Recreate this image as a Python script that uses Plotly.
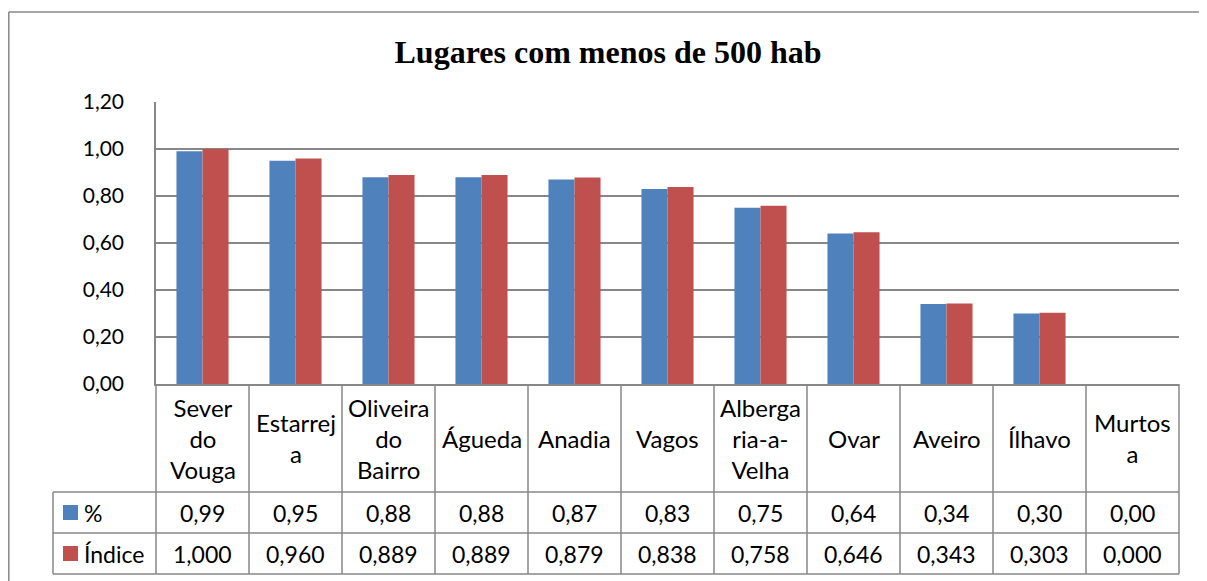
import plotly.graph_objects as go

# ---------------- data ----------------
categories = ["Sever do Vouga", "Estarreja", "Oliveira do Bairro", "Águeda", "Anadia",
              "Vagos", "Albergaria-a-Velha", "Ovar", "Aveiro", "Ílhavo", "Murtosa"]
category_labels = ["Sever<br>do<br>Vouga", "Estarrej<br>a", "Oliveira<br>do<br>Bairro", "Águeda",
                   "Anadia", "Vagos", "Alberga<br>ria-a-<br>Velha", "Ovar", "Aveiro", "Ílhavo",
                   "Murtos<br>a"]
pct = [0.99, 0.95, 0.88, 0.88, 0.87, 0.83, 0.75, 0.64, 0.34, 0.30, 0.00]
indice = [1.000, 0.960, 0.889, 0.889, 0.879, 0.838, 0.758, 0.646, 0.343, 0.303, 0.000]
series_names = ["%", "Índice"]
y_tickvals = [0.0, 0.2, 0.4, 0.6, 0.8, 1.0, 1.2]
y_ticktext = ["0,00", "0,20", "0,40", "0,60", "0,80", "1,00", "1,20"]
title_text = "Lugares com menos de 500 hab"

# ---------------- style ----------------
BLUE = "#4F81BD"
RED = "#C0504D"
GRID = "#878787"
FONT = "Lato"
WIN_W, WIN_H = 1207, 581
OFF = 8                                # default page body margin
W, H = WIN_W - OFF, WIN_H - OFF        # figure size so it fits the window
L, R, T, B = 156, 1179, 102, 384       # plot area in page pixels
PW, PH = R - L, B - T


def px_x(px):
    return (px - L) / PW


def px_y(py):
    return (B - py) / PH


def fmt(v, n):
    return f"{v:.{n}f}".replace(".", ",")


fig = go.Figure()
fig.add_trace(go.Bar(x=categories, y=pct, name=series_names[0], marker=dict(color=BLUE, line=dict(width=0))))
fig.add_trace(go.Bar(x=categories, y=indice, name=series_names[1], marker=dict(color=RED, line=dict(width=0))))

# table geometry (page pixels)
header_bottom = 492
row1_bottom = 533
row2_bottom = 574
legend_left = 53
n = len(categories)

shapes = []
line = dict(color=GRID, width=1.5)
# outer chart border (top and left)
shapes.append(dict(type="line", xref="paper", yref="paper", x0=px_x(8.8), x1=px_x(WIN_W + 5),
                   y0=px_y(12), y1=px_y(12), line=line))
shapes.append(dict(type="line", xref="paper", yref="paper", x0=px_x(8.8), x1=px_x(8.8),
                   y0=px_y(12), y1=px_y(WIN_H + 5), line=line))
# table horizontal lines
for py in (header_bottom, row1_bottom, row2_bottom):
    shapes.append(dict(type="line", xref="paper", yref="paper", x0=px_x(legend_left), x1=1,
                       y0=px_y(py), y1=px_y(py), line=line))
# table vertical lines (category boundaries)
for i in range(n + 1):
    shapes.append(dict(type="line", xref="paper", yref="paper", x0=i / n, x1=i / n,
                       y0=0, y1=px_y(row2_bottom), line=line))
# legend column left edge
shapes.append(dict(type="line", xref="paper", yref="paper", x0=px_x(legend_left), x1=px_x(legend_left),
                   y0=px_y(header_bottom), y1=px_y(row2_bottom), line=line))
# legend keys
row_centers = [(header_bottom + row1_bottom) / 2, (row1_bottom + row2_bottom) / 2]
for color, cy in zip((BLUE, RED), row_centers):
    shapes.append(dict(type="rect", xref="paper", yref="paper", x0=px_x(63), x1=px_x(78),
                       y0=px_y(cy - 7.5), y1=px_y(cy + 7.5), fillcolor=color, line=dict(width=0)))

annotations = []
header_center = (B + header_bottom) / 2
for cat, lab in zip(categories, category_labels):
    annotations.append(dict(x=cat, xref="x", y=px_y(header_center), yref="paper", text=lab,
                            showarrow=False, xanchor="center", yanchor="middle",
                            font=dict(family=FONT, size=24, color="black")))
for cat, a, b in zip(categories, pct, indice):
    annotations.append(dict(x=cat, xref="x", y=px_y(row_centers[0]), yref="paper", text=fmt(a, 2),
                            showarrow=False, xanchor="center", yanchor="middle",
                            font=dict(family=FONT, size=23, color="black")))
    annotations.append(dict(x=cat, xref="x", y=px_y(row_centers[1]), yref="paper", text=fmt(b, 3),
                            showarrow=False, xanchor="center", yanchor="middle",
                            font=dict(family=FONT, size=23, color="black")))
for name, cy in zip(series_names, row_centers):
    annotations.append(dict(x=px_x(82), xref="paper", y=px_y(cy), yref="paper", text=name,
                            showarrow=False, xanchor="left", yanchor="middle",
                            font=dict(family=FONT, size=23, color="black")))

fig.update_layout(
    width=W, height=H,
    margin=dict(l=L - OFF, r=WIN_W - R, t=T - OFF, b=WIN_H - B, pad=0),
    paper_bgcolor="white", plot_bgcolor="white",
    showlegend=False,
    barmode="group", bargap=0.44, bargroupgap=0,
    title=dict(text=f"<b>{title_text}</b>", x=(608 - OFF) / W, xref="container", xanchor="center",
               y=1 - (52 - OFF) / H, yref="container", yanchor="middle",
               font=dict(family="Liberation Serif", size=32, color="black")),
    xaxis=dict(range=[-0.5, n - 0.5], showticklabels=False, showgrid=False, ticks="",
               showline=True, linecolor=GRID, linewidth=1.5, zeroline=False, fixedrange=True),
    yaxis=dict(range=[0, 1.2], tickvals=y_tickvals, ticktext=y_ticktext, showgrid=True,
               gridcolor=GRID, gridwidth=1.5, showline=True, linecolor=GRID, linewidth=1.5,
               zeroline=False, ticks="", ticklabelstandoff=26,
               tickfont=dict(family=FONT, size=21, color="black")),
    shapes=shapes,
    annotations=annotations,
)

fig.write_html("out.html")
